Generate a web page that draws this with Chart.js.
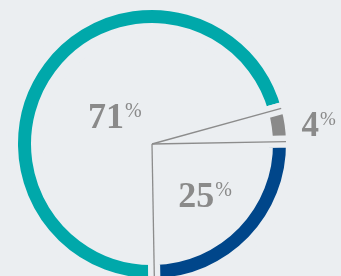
<!DOCTYPE html>
<html>
<head>
<meta charset="utf-8">
<script src="https://cdn.jsdelivr.net/npm/chart.js@4"></script>
<style>
  html, body { margin: 0; padding: 0; background: #ebeef1; overflow: hidden; }
  #wrap { width: 341px; height: 300px; position: relative; }
</style>
</head>
<body>
<div id="wrap"><canvas id="ring"></canvas></div>
<script>
const segments = ['71%', '4%', '25%'];
const shares = [71, 4, 25];
const numberText = ['71', '4', '25'];

const ringColors = ['#00a8aa', '#8a8a8a', '#00468a'];
const bg = '#ebeef1';

// label placement: distance from centre along each slice's middle angle
const labelRadius = [47, 168, 73];
const labelNudgeY = [0, 4, 0];
const labelSize = [36, 35, 36];

const ctx = document.getElementById('ring').getContext('2d');

new Chart(ctx, {
  type: 'doughnut',
  data: {
    labels: segments,
    datasets: [
      {
        data: shares,
        backgroundColor: ringColors,
        borderColor: bg,
        borderWidth: 12,
        borderAlign: 'center'
      }
    ]
  },
  options: {
    responsive: true,
    maintainAspectRatio: false,
    animation: false,
    radius: 140,
    cutout: '82.14%',
    rotation: 179,
    layout: { padding: { left: 0, top: 0, right: 37, bottom: 12 } },
    plugins: {
      legend: { display: false },
      tooltip: { enabled: false }
    }
  },
  plugins: [
    {
      id: 'spokesAndLabels',
      afterDatasetsDraw(chart) {
        const c = chart.ctx;
        const arcs = chart.getDatasetMeta(0).data;
        c.save();

        // thin spokes along each slice boundary
        c.strokeStyle = '#8c8c8c';
        c.lineWidth = 1.3;
        arcs.forEach((arc, i) => {
          const { x, y, startAngle, outerRadius } = arc.getProps(['x', 'y', 'startAngle', 'outerRadius'], true);
          const r = i === 0 ? outerRadius + 10 : outerRadius - 6;
          c.beginPath();
          c.moveTo(x, y);
          c.lineTo(x + Math.cos(startAngle) * r, y + Math.sin(startAngle) * r);
          c.stroke();
        });

        // value labels: bold number + small raised percent sign
        c.fillStyle = '#8a8a8a';
        c.textBaseline = 'alphabetic';
        c.textAlign = 'left';
        arcs.forEach((arc, i) => {
          const { x, y, startAngle, endAngle } = arc.getProps(['x', 'y', 'startAngle', 'endAngle'], true);
          const mid = (startAngle + endAngle) / 2;
          const cx = x + Math.cos(mid) * labelRadius[i];
          const cy = y + Math.sin(mid) * labelRadius[i] + labelNudgeY[i];
          const size = labelSize[i];
          const pctSize = Math.round(size * 0.55);

          c.font = `bold ${size}px "Liberation Serif", serif`;
          const w1 = c.measureText(numberText[i]).width;
          c.font = `${pctSize}px "Liberation Serif", serif`;
          const w2 = c.measureText('%').width;

          const left = cx - (w1 + w2) / 2;
          const base = cy + size * 0.34;

          c.font = `bold ${size}px "Liberation Serif", serif`;
          c.fillText(numberText[i], left, base);
          c.font = `${pctSize}px "Liberation Serif", serif`;
          c.fillText('%', left + w1 + 1, base - size * 0.3);
        });

        c.restore();
      }
    }
  ]
});
</script>
</body>
</html>
